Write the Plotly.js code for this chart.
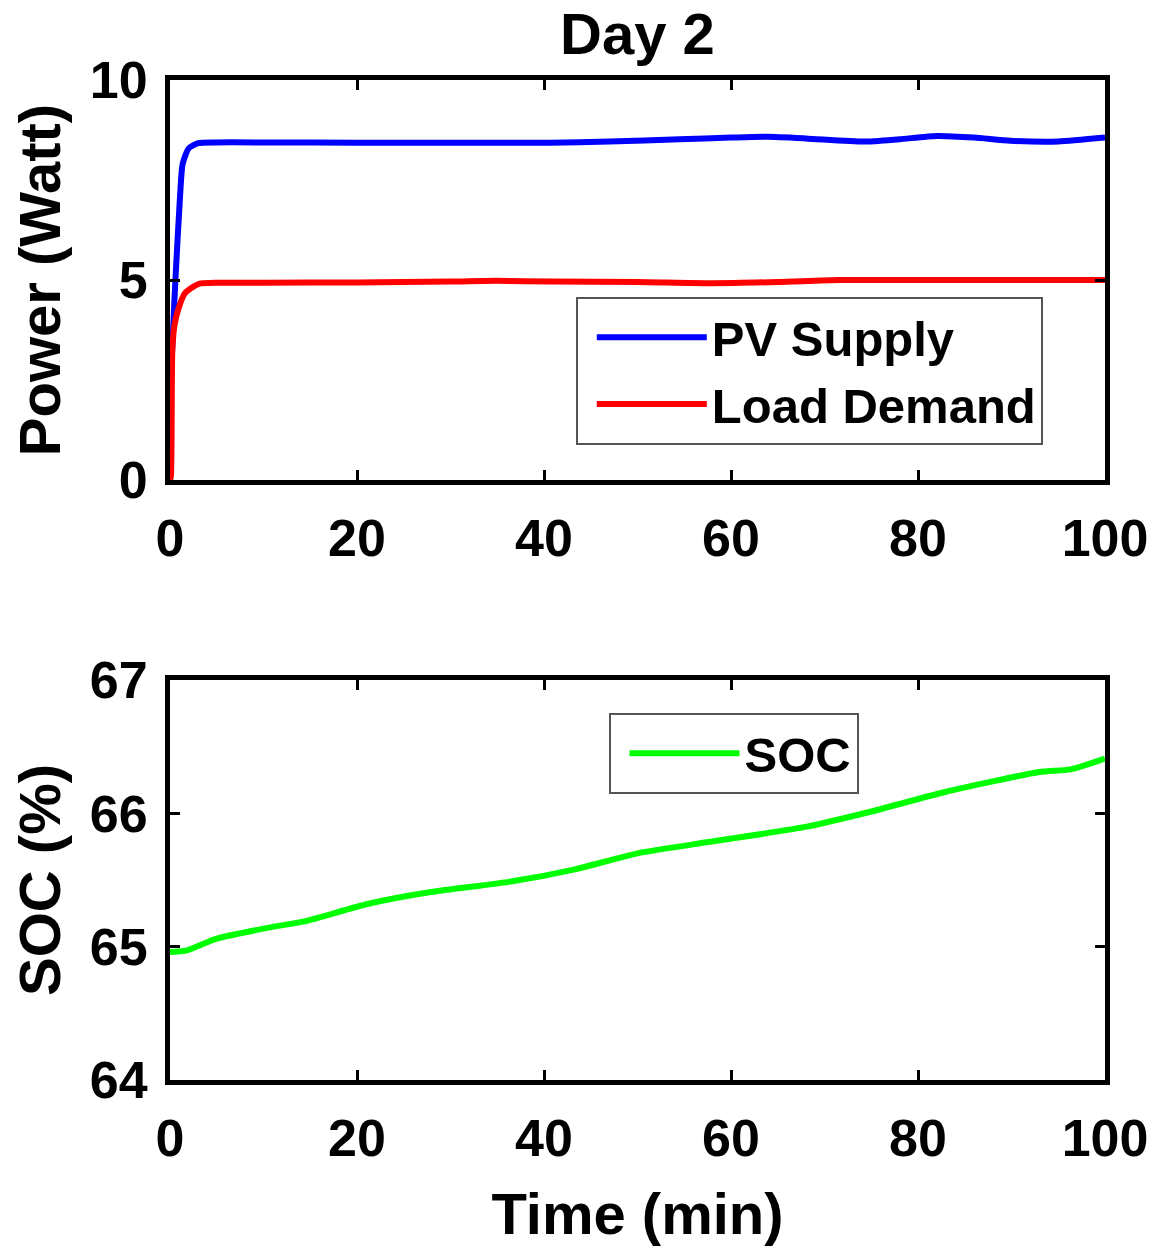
<!DOCTYPE html>
<html>
<head>
<meta charset="utf-8">
<script src="https://cdn.plot.ly/plotly-3.0.1.min.js"></script>
<style>
  html, body { margin: 0; padding: 0; background: #fff; }
  #plot { width: 1160px; height: 1256px; }
</style>
</head>
<body>
<div id="plot"></div>
<script>
// Day 2 - power (top) and battery state of charge (bottom)
const pvTime = [0, 0.05, 0.3, 0.6, 1.1, 1.35, 2, 3, 5, 10, 20, 30, 40.7, 47, 54.5, 60, 63.9, 68, 74.2, 78, 82, 86, 89.9, 95, 100];
const pvSupply = [0, 2.2, 3.6, 5.1, 7.2, 7.9, 8.29, 8.42, 8.44, 8.44, 8.43, 8.43, 8.43, 8.46, 8.52, 8.56, 8.58, 8.54, 8.46, 8.52, 8.6, 8.56, 8.48, 8.46, 8.56];

const loadTime = [0, 0.1, 0.25, 0.5, 0.93, 1.6, 3.05, 5.2, 10, 20, 30, 35, 40.7, 50, 58, 65, 71.6, 80, 90, 100];
const loadDemand = [0, 0.1, 3.25, 3.9, 4.3, 4.67, 4.9, 4.93, 4.93, 4.94, 4.96, 4.98, 4.96, 4.95, 4.92, 4.95, 5.0, 5.0, 5.0, 5.0];

const socTime = [0, 1.7, 5.0, 11.1, 14.4, 21.1, 27.9, 36.6, 43.3, 50, 58.1, 68.1, 74.8, 82.9, 93, 96.3, 100];
const socValue = [64.96, 64.97, 65.06, 65.15, 65.19, 65.32, 65.41, 65.49, 65.58, 65.70, 65.79, 65.90, 66.01, 66.16, 66.31, 66.33, 66.41];

const xTicks = [0, 20, 40, 60, 80, 100];
const powerTicks = [0, 5, 10];
const socTicks = [64, 65, 66, 67];

const FONT = 'Liberation Sans, Arial, Helvetica, sans-serif';

function axisStyle(extra) {
  return Object.assign({
    showline: true,
    linewidth: 5,
    linecolor: '#000',
    mirror: 'ticks',
    ticks: 'inside',
    ticklen: 10,
    tickwidth: 3,
    tickcolor: '#000',
    showgrid: false,
    zeroline: false,
    fixedrange: true,
    tickfont: { family: FONT, size: 52, color: '#000', weight: 'bold' }
  }, extra);
}

const titleFont = { family: FONT, size: 58, color: '#000', weight: 'bold' };

const traces = [
  {
    x: pvTime, y: pvSupply, name: 'PV Supply',
    type: 'scatter', mode: 'lines',
    line: { color: '#0000ff', width: 6, shape: 'spline', smoothing: 0.6 },
    xaxis: 'x', yaxis: 'y', legend: 'legend'
  },
  {
    x: loadTime, y: loadDemand, name: 'Load Demand',
    type: 'scatter', mode: 'lines',
    line: { color: '#ff0000', width: 6, shape: 'spline', smoothing: 0.6 },
    xaxis: 'x', yaxis: 'y', legend: 'legend'
  },
  {
    x: socTime, y: socValue, name: 'SOC',
    type: 'scatter', mode: 'lines',
    line: { color: '#00ff00', width: 6, shape: 'spline', smoothing: 0.6 },
    xaxis: 'x2', yaxis: 'y2', legend: 'legend2'
  }
];

const legendFont = { family: FONT, size: 49, color: '#000', weight: 'bold' };

const layout = {
  width: 1160,
  height: 1256,
  margin: { l: 170, r: 52, t: 80, b: 176 },
  paper_bgcolor: '#fff',
  plot_bgcolor: '#fff',
  font: { family: FONT, color: '#000' },
  title: {
    text: 'Day 2',
    font: titleFont,
    xref: 'paper', x: 0.5, xanchor: 'center',
    yref: 'container', y: 0.973, yanchor: 'middle'
  },
  xaxis: axisStyle({
    domain: [0, 1], anchor: 'y', range: [0, 100],
    tickvals: xTicks, ticklabelstandoff: 9
  }),
  yaxis: axisStyle({
    domain: [0.6, 1], anchor: 'x', range: [0, 10],
    tickvals: powerTicks, ticklabelstandoff: 7,
    automargin: true,
    title: { text: 'Power (Watt)', font: titleFont, standoff: 12 }
  }),
  xaxis2: axisStyle({
    domain: [0, 1], anchor: 'y2', range: [0, 100],
    tickvals: xTicks, ticklabelstandoff: 9,
    automargin: true,
    title: { text: 'Time (min)', font: titleFont, standoff: 28 }
  }),
  yaxis2: axisStyle({
    domain: [0, 0.4], anchor: 'x2', range: [64, 67],
    tickvals: socTicks, ticklabelstandoff: 7,
    automargin: true,
    title: { text: 'SOC (%)', font: titleFont, standoff: 12 }
  }),
  legend: {
    x: 0.434, y: 0.783, xanchor: 'left', yanchor: 'top',
    bgcolor: '#fff', bordercolor: '#555', borderwidth: 2,
    font: legendFont, itemwidth: 110, indentation: 14, tracegroupgap: 0
  },
  legend2: {
    x: 0.469, y: 0.367, xanchor: 'left', yanchor: 'top',
    bgcolor: '#fff', bordercolor: '#555', borderwidth: 2,
    font: legendFont, itemwidth: 110, indentation: 14
  },
  showlegend: true
};

Plotly.newPlot('plot', traces, layout, { displayModeBar: false, staticPlot: true });
</script>
</body>
</html>
